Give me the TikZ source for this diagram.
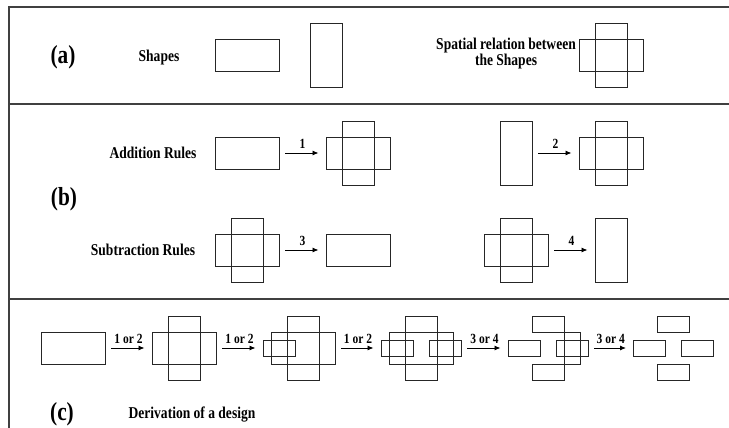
\documentclass[tikz,border=0pt]{standalone}
\usepackage{fontspec}
\setmainfont[FakeStretch=0.82]{Liberation Serif}
\usetikzlibrary{positioning, arrows.meta}

\begin{document}
\begin{tikzpicture}[
    x=1pt, y=-1pt,
    outline/.style={
        draw=black!85, line width=0.9pt,
        inner sep=0pt, outer sep=0pt
    },
    hbox/.style={outline, minimum width=64pt, minimum height=32pt},
    vbox/.style={outline, minimum width=32pt, minimum height=64pt},
    sbox/.style={outline, minimum width=32pt, minimum height=16pt},
    frame/.style={draw=black!75, line width=1.3pt},
    lbl/.style={
        font=\bfseries\fontsize{16.5}{16}\selectfont,
        align=center, inner sep=0pt
    },
    part/.style={font=\bfseries\fontsize{26}{28}\selectfont, inner sep=0pt},
    num/.style={font=\bfseries\fontsize{14}{16}\selectfont, above=4pt, inner sep=0pt},
    arr/.style={
        -{Latex[length=6pt,width=5pt]}, line width=0.9pt,
        shorten <=6pt, shorten >=7.5pt
    }
]
\useasboundingbox (0,0) rectangle (729,428);

% Frame
\draw[frame] (729,7) -- (9,7) -- (9,428);
\draw[frame] (9,104) -- (729,104);
\draw[frame] (9,299) -- (729,299);

% (a) Shapes
\node[part] (partA) at (63,57) {(a)};
\node[lbl] (shapesLbl) at (159,58) {Shapes};
\node[hbox] (shapeH) at (247,55.5) {};
\node[vbox] (shapeV) at (326.5,55.5) {};

\node[lbl,anchor=east] (relLbl) at (576,54) {Spatial relation between\\the Shapes};
\node[hbox] (relH) at (611,55.5) {};
\node[vbox] (relV) at (611,55.5) {};

% (b) Addition rules
\node[part] (partB) at (64,199) {(b)};
\node[lbl] (addLbl) at (153,153) {Addition Rules};
\node[hbox] (addA) at (247,153) {};
\node[hbox] (addAH) at (358,153) {};
\node[vbox] (addAV) at (358,153) {};
\draw[arr] (addA) -- node[num] {1} (addAH);

\node[vbox] (addB) at (516,153) {};
\node[hbox] (addBH) at (611,153) {};
\node[vbox] (addBV) at (611,153) {};
\draw[arr] (addB) -- node[num] {2} (addBH);

% (b) Subtraction rules
\node[lbl] (subLbl) at (143,250) {Subtraction Rules};
\node[hbox] (subAH) at (247,250) {};
\node[vbox] (subAV) at (247,250) {};
\node[hbox] (subA) at (358,250) {};
\draw[arr] (subAH) -- node[num] {3} (subA);

\node[hbox] (subBH) at (516,250) {};
\node[vbox] (subBV) at (516,250) {};
\node[vbox] (subB) at (611,250) {};
\draw[arr] (subBH) -- node[num] {4} (subB);

% (c) Derivation
\node[part] (partC) at (62,414) {(c)};
\node[lbl] (derLbl) at (192,415) {Derivation of a design};

\node[hbox] (step1) at (73,348) {};

\node[hbox] (step2H) at (184,348) {};
\node[vbox] (step2V) at (184,348) {};

\node[hbox] (step3H) at (303,348) {};
\node[vbox] (step3V) at (303,348) {};
\node[sbox] (step3L) at (279,348) {};

\node[hbox] (step4H) at (421,348) {};
\node[vbox] (step4V) at (421,348) {};
\node[sbox] (step4L) at (397,348) {};
\node[sbox] (step4R) at (445,348) {};

\node[sbox] (step5T) at (548,324) {};
\node[sbox] (step5B) at (548,372) {};
\node[sbox] (step5L) at (524,348) {};
\node[sbox] (step5R) at (572,348) {};
\draw[outline] (step5T.north east) -- (step5B.south east);
\draw[outline] (step5T.south east) -- ++(16,0) |- (step5B.north east);

\node[sbox] (step6T) at (673.5,324) {};
\node[sbox] (step6B) at (673.5,372) {};
\node[sbox] (step6L) at (649.5,348) {};
\node[sbox] (step6R) at (697.5,348) {};

\draw[arr] (step1) -- node[num] {1 or 2} (step2H);
\draw[arr] (step2H) -- node[num] {1 or 2} (step3L);
\draw[arr] (step3H) -- node[num] {1 or 2} (step4L);
\draw[arr] (step4R) -- node[num] {3 or 4} (step5L);
\draw[arr] (step5R) -- node[num] {3 or 4} (step6L);

\end{tikzpicture}
\end{document}
